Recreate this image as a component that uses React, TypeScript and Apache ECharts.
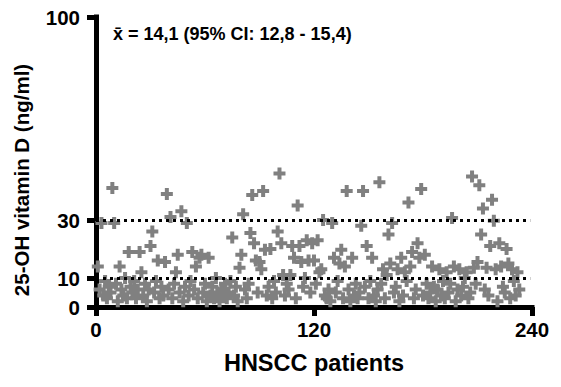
import React, { useEffect, useRef } from "react";
import * as echarts from "echarts";

const vitaminD: number[] = [
  14, 6, 29, 4, 9, 3, 7, 5, 41, 29,
  8, 2, 14, 6, 4, 10, 3, 19, 7, 5,
  9, 3, 6, 19, 12, 4, 8, 2, 6, 21,
  26, 5, 9, 16, 3, 7, 4, 15.5, 39, 6,
  31, 3, 8, 12, 18, 5, 33, 2, 7, 29,
  4, 9, 19, 6, 14, 3, 17, 18, 5, 8,
  2, 17, 4, 7, 3, 10, 5, 2, 6, 4,
  8, 3, 5, 9, 24, 4, 7, 2, 13.5, 18,
  32, 6, 3, 8, 25.5, 38.6, 22, 16, 5, 15.5,
  13, 40, 19.7, 4, 7, 20, 3, 9, 5, 26,
  46, 22, 11, 4, 8, 6, 11, 21, 17, 3,
  35, 21, 15.5, 7, 10, 23, 16, 5, 22, 16,
  8, 23, 12, 13, 30, 4, 3, 6, 2, 29,
  17, 5, 9, 15, 19.7, 3, 14, 40, 6, 2,
  17, 4, 8, 3, 5, 28, 40, 7, 21, 3,
  9, 17, 4, 2, 6, 43, 8, 13, 3, 11,
  25, 15, 29, 5, 7, 13, 2, 17, 4, 12,
  9, 36, 14, 19, 3, 6, 22, 17, 40.7, 4,
  18, 8, 3, 5, 14, 7, 2, 6, 13, 4,
  9, 3, 12, 5, 8, 30.7, 14, 2, 6, 13,
  4, 7, 10, 12, 3, 5, 45, 13.5, 8, 15.5,
  42, 25, 34, 6, 13.5, 4, 21, 37, 29.7, 13,
  2, 22, 14, 7, 5, 20, 15, 3, 13, 9,
  4, 12, 6,
];

const xTicks = [0, 120, 240];
const yTicks = [0, 10, 30, 100];
const referenceLines = [10, 30];
const annotation = "x\u0304 = 14,1 (95% CI: 12,8 - 15,4)";
const xTitle = "HNSCC patients";
const yTitle = "25-OH vitamin D (ng/ml)";

const PLUS = "path://M4,0H8V4H12V8H8V12H4V8H0V4H4Z";
const FONT = "Liberation Sans, Arial, sans-serif";

export default function App() {
  const ref = useRef<HTMLDivElement>(null);
  useEffect(() => {
    if (!ref.current) return;
    const chart = echarts.init(ref.current, null, { renderer: "svg" });
    const points = vitaminD.map((v, i) => [i + 1, v]);
    chart.setOption({
      animation: false,
      backgroundColor: "#ffffff",
      grid: { left: 96, right: 29, top: 17, bottom: 80, containLabel: false },
      xAxis: {
        type: "value",
        min: 0,
        max: 240,
        interval: 120,
        name: xTitle,
        nameLocation: "middle",
        nameGap: 44,
        nameTextStyle: { fontFamily: FONT, fontWeight: "bold", fontSize: 23.5, color: "#000" },
        axisLine: { show: true, lineStyle: { color: "#000", width: 5, cap: "square" } },
        axisTick: { show: true, length: 9, lineStyle: { color: "#000", width: 5 }, customValues: xTicks },
        axisLabel: { margin: 12, fontFamily: FONT, fontWeight: "bold", fontSize: 20.5, color: "#000", customValues: xTicks },
        splitLine: { show: false },
      },
      yAxis: {
        type: "value",
        min: 0,
        max: 100,
        interval: 10,
        axisLine: { show: true, lineStyle: { color: "#000", width: 5, cap: "square" } },
        axisTick: { show: true, length: 9, lineStyle: { color: "#000", width: 5 }, customValues: yTicks },
        axisLabel: { margin: 16, fontFamily: FONT, fontWeight: "bold", fontSize: 20.5, color: "#000", customValues: yTicks },
        splitLine: { show: false },
      },
      series: [
        {
          type: "scatter",
          data: points,
          symbol: PLUS,
          symbolSize: 12,
          itemStyle: { color: "#808080", opacity: 1 },
          z: 2,
        },
        {
          type: "line",
          data: [],
          z: 3,
          markLine: {
            silent: true,
            symbol: ["none", "none"],
            label: { show: false },
            lineStyle: { color: "#000", width: 3, type: [3, 4], cap: "butt" },
            data: referenceLines.map((v) => [
              { coord: [0, v] },
              { coord: [239, v] },
            ]),
          },
        },
      ],
      graphic: [
        {
          type: "text",
          left: 113,
          top: 25,
          style: { text: annotation, font: `bold 18px ${FONT}`, fill: "#000" },
        },
        {
          type: "text",
          x: 21,
          y: 180,
          rotation: Math.PI / 2,
          style: {
            text: yTitle,
            font: `bold 20.5px ${FONT}`,
            fill: "#000",
            align: "center",
            verticalAlign: "middle",
          },
        },
      ],
    });
    return () => chart.dispose();
  }, []);
  return (
    <div
      ref={ref}
      style={{ position: "fixed", left: 0, top: 0, width: 561, height: 387, background: "#fff" }}
    />
  );
}
